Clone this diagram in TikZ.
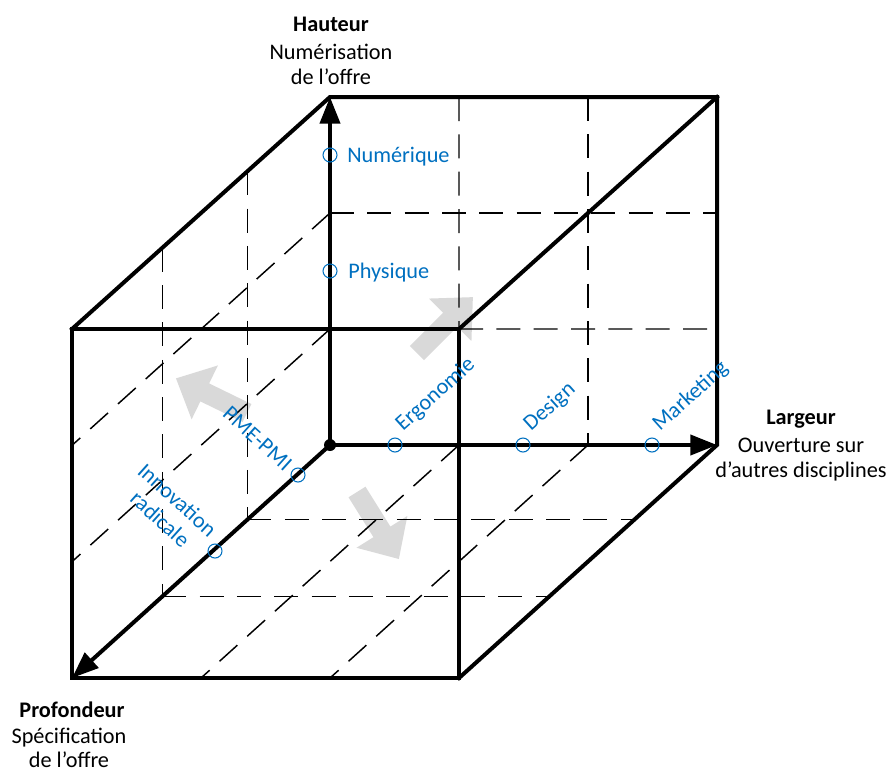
\documentclass[tikz,border=0pt]{standalone}
\usepackage{fontspec}
\setmainfont{Carlito}
\usetikzlibrary{arrows.meta,calc}
\definecolor{labelblue}{HTML}{0070C0}
\definecolor{hintgray}{HTML}{D9D9D9}

\begin{document}
\begin{tikzpicture}[x=0.75pt,y=-0.75pt,
  every node/.style={font=\fontsize{16.7}{19.3}\selectfont, inner sep=0pt},
  edge/.style={line width=3pt, line join=miter, line cap=rect},
  guide/.style={line width=1.1pt, dash pattern=on 18pt off 10pt},
  axis/.style={line width=3pt, -{Triangle[length=20pt,width=15pt]}},
  pin/.style={circle, draw=labelblue, line width=0.8pt, minimum size=10.5pt},
  tag/.style={text=labelblue},
  axistitle/.style={font=\fontsize{16.7}{19.3}\selectfont\bfseries, anchor=base},
  axislabel/.style={anchor=base},
  hint arrow/.pic={
    \fill[hintgray] (0,-10) -- (47,-10) -- (47,-30) -- (79,0) -- (47,30)
      -- (47,10) -- (0,10) -- cycle;}
]
\useasboundingbox (0,0) rectangle (892,769);

% cube corners
\coordinate (O)   at (330,445);
\coordinate (BTL) at (330,97);
\coordinate (BTR) at (717,97);
\coordinate (BBR) at (717,445);
\coordinate (FTL) at (72,329);
\coordinate (FTR) at (459,329);
\coordinate (FBR) at (459,678);
\coordinate (FBL) at (72,678);

% wide grey direction arrows
\pic[rotate=45]  at (417,353) {hint arrow};
\pic[rotate=154] at (247,413) {hint arrow};
\pic[rotate=-58] at (357,492) {hint arrow};

% back face grid
\draw[guide] ($(BTL)!1/3!(BTR)$) -- (FTR);
\draw[guide] ($(BTL)!2/3!(BTR)$) -- ($(O)!2/3!(BBR)$);
\draw[guide] ($(O)!2/3!(BTL)$) -- ($(BBR)!2/3!(BTR)$);
\draw[guide] (FTR) -- ($(BBR)!1/3!(BTR)$);
% left face grid
\draw[guide] ($(BTL)!0.32!(FTL)$) -- ($(O)!0.32!(FBL)$);
\draw[guide] ($(BTL)!0.65!(FTL)$) -- ($(O)!0.65!(FBL)$);
\draw[guide] ($(O)!2/3!(BTL)$) -- ($(FBL)!2/3!(FTL)$);
\draw[guide] ($(O)!1/3!(BTL)$) -- ($(FBL)!1/3!(FTL)$);
% bottom face grid
\draw[guide] ($(O)!0.32!(FBL)$) -- ($(BBR)!0.32!(FBR)$);
\draw[guide] ($(O)!0.65!(FBL)$) -- ($(BBR)!0.65!(FBR)$);
\draw[guide] ($(O)!1/3!(BBR)$) -- ($(FBL)!1/3!(FBR)$);
\draw[guide] ($(O)!2/3!(BBR)$) -- ($(FBL)!2/3!(FBR)$);

% cube edges
\draw[edge] (FTL) -- (FTR) -- (FBR) -- (FBL) -- cycle;
\draw[edge] (FTL) -- (BTL) -- (BTR) -- (BBR) -- (FBR);
\draw[edge] (BTR) -- (FTR);

% axes
\draw[axis] (O) -- (BTL);
\draw[axis] (O) -- (BBR);
\draw[axis] (O) -- (FBL);
\fill (O) circle (4.5pt);

% graduations
\node[pin] (num)  at (330,155) {};
\node[pin] (phy)  at (330,271) {};
\node[pin] (ergo) at (395,445) {};
\node[pin] (des)  at (523,445) {};
\node[pin] (mkt)  at (652,445) {};
\node[pin] (pme)  at (298,475) {};
\node[pin] (inno) at (215,551) {};

\node[tag, anchor=base west] (numT) at (347,162) {Numérique};
\node[tag, anchor=base west] (phyT) at (348,278) {Physique};
\node[tag, anchor=base west, rotate=42] (ergoT) at (403,432) {Ergonomie};
\node[tag, anchor=base west, rotate=42] (desT)  at (531,432) {Design};
\node[tag, anchor=base west, rotate=42] (mktT)  at (660,432) {Marketing};
\node[tag, anchor=east, rotate=-42] (pmeT) at (289,467) {PME-PMI};
\node[tag, anchor=east, rotate=-42, align=center] (innoT) at (205,542) {Innovation\\radicale};

% axis names
\node[axistitle] (hT) at (331,31) {Hauteur};
\node[axislabel] (h1) at (331,59) {Numérisation};
\node[axislabel] (h2) at (331,84) {de l’offre};
\node[axistitle] (wT) at (801,424) {Largeur};
\node[axislabel] (w1) at (801,452) {Ouverture sur};
\node[axislabel] (w2) at (801,477) {d’autres disciplines};
\node[axistitle] (dT) at (72,717) {Profondeur};
\node[axislabel] (d1) at (69,743) {Spécification};
\node[axislabel] (d2) at (69,767) {de l’offre};
\end{tikzpicture}
\end{document}
